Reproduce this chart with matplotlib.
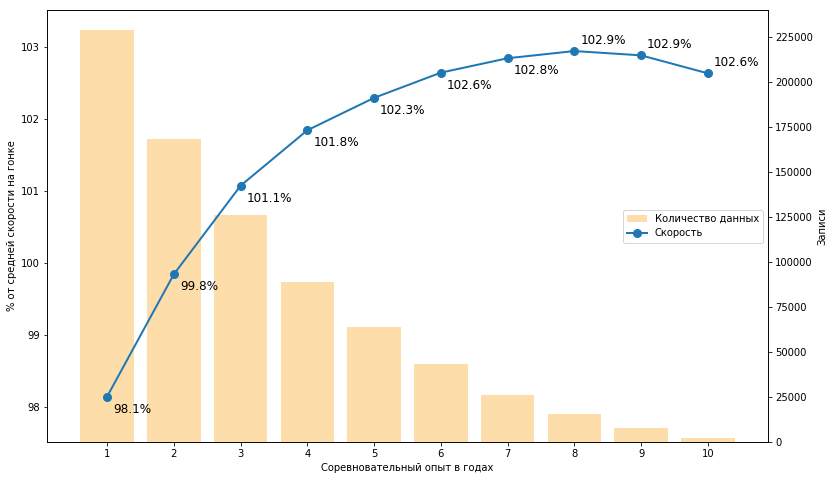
import matplotlib
matplotlib.use("Agg")
import matplotlib.pyplot as plt

years = [1, 2, 3, 4, 5, 6, 7, 8, 9, 10]
records = [228900, 168300, 126100, 88900, 63900, 43300, 26100, 15600, 7800, 2200]
speed_pct = [98.14, 99.84, 101.07, 101.84, 102.29, 102.64, 102.84, 102.94, 102.88, 102.63]

fig, ax = plt.subplots(figsize=(833 / 72, 480 / 72), dpi=72)
fig.subplots_adjust(left=47 / 833, right=768 / 833, top=1 - 10 / 480, bottom=1 - 442 / 480)
ax2 = ax.twinx()

bars = ax2.bar(years, records, width=0.8, color="#fddeab", label="Количество данных")
ax2.set_ylim(0, 240000)
ax2.set_yticks(range(0, 225001, 25000))
ax2.set_ylabel("Записи")

line, = ax.plot(years, speed_pct, marker="o", markersize=8, linewidth=2,
                color="#1f77b4", label="Скорость")
ax.set_ylim(97.51, 103.51)
ax.set_xlim(0.1, 10.9)
ax.set_xticks(years)
ax.set_xlabel("Соревновательный опыт в годах")
ax.set_ylabel("% от средней скорости на гонке")
ax.set_zorder(ax2.get_zorder() + 1)
ax.patch.set_visible(False)

for i, (x, y) in enumerate(zip(years, speed_pct)):
    if i >= 7:
        ax.annotate(f"{y:.1f}%", (x, y), xytext=(6, 4), textcoords="offset points",
                    fontsize=12, va="bottom")
    else:
        ax.annotate(f"{y:.1f}%", (x, y), xytext=(6, -6), textcoords="offset points",
                    fontsize=12, va="top")

ax.legend([bars, line], ["Количество данных", "Скорость"], loc="center right")
fig.savefig("out.png", dpi=72)
